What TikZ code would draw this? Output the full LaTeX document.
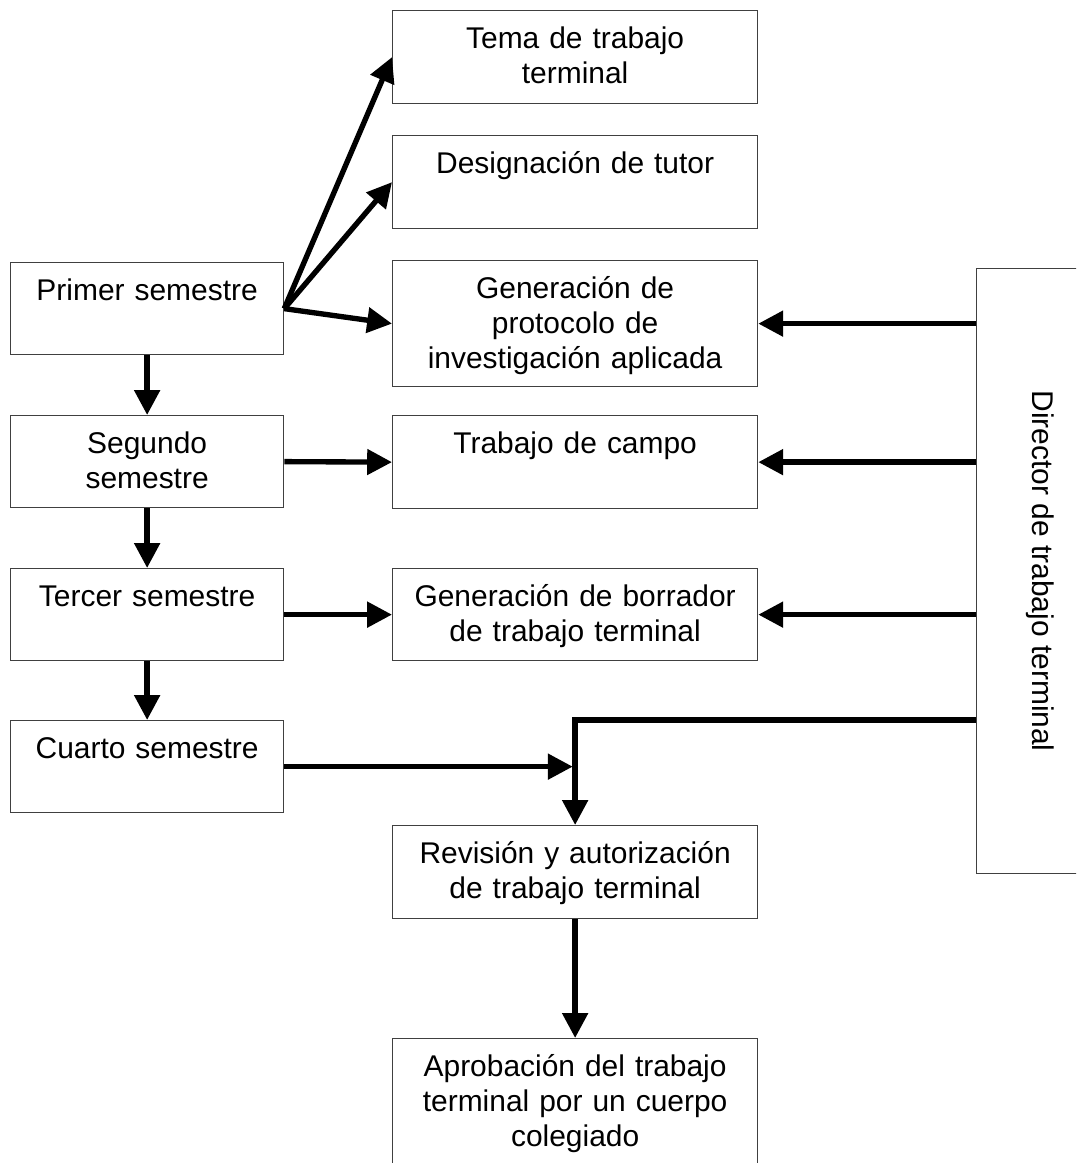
\documentclass[tikz,border=0pt]{standalone}
\usepackage{fontspec}
\setmainfont{Liberation Sans}
\usetikzlibrary{arrows.meta, positioning, calc}

\tikzset{
  caja/.style={draw=black!75, line width=0.9pt, align=center, inner sep=0pt,
    font=\fontsize{21.3}{24.9}\selectfont, text height=0.95cm, anchor=north west},
  semestre/.style={caja, text width=6.825cm, text depth=1.35cm},
  etapa/.style={caja, text width=9.125cm, text depth=1.375cm},
  flecha/.style={line width=3.8pt, -{Triangle[length=0.62cm,width=0.62cm]}},
}

\begin{document}
\begin{tikzpicture}
            \path[use as bounding box] (0,0) rectangle (26.9,-29.075);
            \clip (0,0) rectangle (26.9,-29.075);

            % semestres
            \node[semestre] (primer) at (0.25,-6.55) {Primer semestre};
            \node[semestre] (segundo) at (0.25,-10.375) {Segundo\\semestre};
            \node[semestre] (tercer) at (0.25,-14.2) {Tercer semestre};
            \node[semestre] (cuarto) at (0.25,-18.0) {Cuarto semestre};

            % etapas
            \node[etapa] (tema) at (9.8,-0.25) {Tema de trabajo\\terminal};
            \node[etapa] (tutor) at (9.8,-3.375) {Designación de tutor};
            \node[etapa, text depth=2.2cm] (protocolo) at (9.8,-6.5) {Generación de\\protocolo de\\investigación aplicada};
            \node[etapa] (campo) at (9.8,-10.375) {Trabajo de campo};
            \node[etapa, text depth=1.35cm] (borrador) at (9.8,-14.2) {Generación de borrador\\de trabajo terminal};
            \node[etapa] (revision) at (9.8,-20.625) {Revisión y autorización\\de trabajo terminal};
            \node[etapa, text depth=2.55cm] (aprobacion) at (9.8,-25.95) {Aprobación del trabajo\\terminal por un cuerpo\\colegiado};

            % director
            \node[draw=black!75, line width=0.9pt, minimum width=3.2cm, minimum height=15.125cm,
              inner sep=0pt, anchor=north west] (director) at (24.4,-6.7) {};
            \node[rotate=-90, font=\fontsize{21.3}{24.9}\selectfont] (dirtexto) at (director.center) {Director de trabajo terminal};

            \draw[flecha] (primer.east) -- (tema.west);
            \draw[flecha] (primer.east) -- (tutor.west);
            \draw[flecha] (primer.east) -- (protocolo.west);
            \draw[flecha] (segundo.east) -- (campo.west);
            \draw[flecha] (tercer.east) -- (borrador.west);

            \draw[flecha] (primer.south) -- (segundo.north);
            \draw[flecha] (segundo.south) -- (tercer.north);
            \draw[flecha] (tercer.south) -- (cuarto.north);

            \draw[flecha] (director.west |- protocolo.east) -- (protocolo.east);
            \draw[flecha] (director.west |- campo.east) -- (campo.east);
            \draw[flecha] (director.west |- borrador.east) -- (borrador.east);

            \coordinate (cruce) at (revision.north |- cuarto.north);
            \coordinate (union) at ($(revision.north |- cuarto.east)+(-0.06,0)$);
            \draw[flecha] (director.west |- cruce) -- (cruce) -- (revision.north);
            \draw[flecha] (cuarto.east) -- (union);

            \draw[flecha] (revision.south) -- (aprobacion.north);
        \end{tikzpicture}
\end{document}
